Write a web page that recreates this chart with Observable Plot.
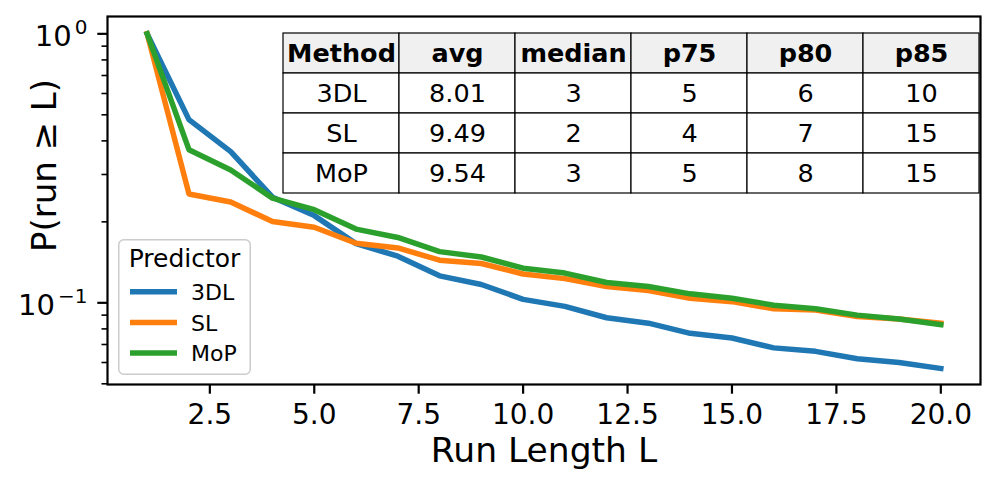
<!DOCTYPE html>
<html><head><meta charset="utf-8">
<script src="https://cdn.jsdelivr.net/npm/d3@7"></script>
<script src="https://cdn.jsdelivr.net/npm/@observablehq/plot@0.6"></script>
<style>
body{margin:0;background:#fff;}
#wrap{position:relative;width:997px;height:486px;font-family:"DejaVu Sans";}
.overlay{position:absolute;}
</style></head><body><div id="wrap"></div>
<script>
// ---- data ----
const runLength = [1,2,3,4,5,6,7,8,9,10,11,12,13,14,15,16,17,18,19,20];
const series = ["3DL","SL","MoP"];
const p3DL = [1.0,0.480,0.365,0.247,0.211,0.166,0.149,0.126,0.117,0.103,0.097,0.088,0.084,0.077,0.074,0.068,0.066,0.062,0.060,0.057];
const pSL  = [1.0,0.254,0.237,0.2005,0.191,0.1665,0.160,0.144,0.140,0.128,0.123,0.115,0.111,0.104,0.101,0.095,0.094,0.089,0.087,0.084];
const pMoP = [1.0,0.371,0.312,0.245,0.222,0.188,0.175,0.155,0.148,0.1345,0.129,0.119,0.115,0.108,0.104,0.098,0.095,0.090,0.087,0.083];
const xTicks = [2.5,5,7.5,10,12.5,15,17.5,20];
const yMajor = [1, 0.1];
const yMajorExp = ["0","\u22121"];
const yMinor = [0.9,0.8,0.7,0.6,0.5,0.4,0.3,0.2,0.09,0.08,0.07,0.06,0.05];
const tableColumns = ["Method","avg","median","p75","p80","p85"];
const tableMethods = ["3DL","SL","MoP"];
const tableAvg = ["8.01","9.49","9.54"];
const tableMedian = ["3","2","3"];
const tableP75 = ["5","4","5"];
const tableP80 = ["6","7","8"];
const tableP85 = ["10","15","15"];
const colors = ["#1f77b4","#ff7f0e","#2ca02c"];
const xLabel = "Run Length L";
const yLabel = "P(run \u2265 L)";
const legendTitle = "Predictor";

const FONT = "DejaVu Sans";
const wrap = document.getElementById("wrap");

function textWidth(t, size, weight="normal"){
  const c = document.createElement("canvas").getContext("2d");
  c.font = `${weight} ${size}px "${FONT}"`;
  return c.measureText(t).width;
}

const seriesValues = [p3DL, pSL, pMoP];
const rows = series.flatMap((s,i)=> seriesValues[i].map((p,j)=>({L: runLength[j], p, s})));

const yLabelMarks = yMajor.flatMap((v,i)=>{
  const w = textWidth(yMajorExp[i], 20);
  return [
    Plot.text([v], {y: d=>d, frameAnchor:"left", text: ()=>yMajorExp[i], textAnchor:"end", lineAnchor:"bottom", dx:-20, dy:0, fontSize:20}),
    Plot.text([v], {y: d=>d, frameAnchor:"left", text: ()=>"10", textAnchor:"end", lineAnchor:"bottom", dx:-20 - w - 3, dy:12, fontSize:29})
  ];
});

const chart = Plot.plot({
  width: 997, height: 486,
  marginLeft: 107, marginRight: 17, marginTop: 16, marginBottom: 102,
  x: {domain: [0.05, 20.95], label: null},
  y: {type: "log", domain: [0.0497, 1.16], label: null},
  color: {domain: series, range: colors},
  style: {fontFamily: `"${FONT}"`, background: "white", color: "black"},
  marks: [
    Plot.line(rows, {x:"L", y:"p", stroke:"s", strokeWidth:5.5, strokeLinecap:"square", strokeLinejoin:"round"}),
    Plot.axisX({ticks: xTicks, tickSize: 9.7, tickPadding: 9.7, tickFormat: d=>d.toFixed(1), fontSize: 28, strokeWidth: 2.2, label: null}),
    Plot.axisY({ticks: yMinor, tickSize: 5.5, tickFormat: ()=>"", strokeWidth: 1.6, label: null}),
    Plot.axisY({ticks: yMajor, tickSize: 9.7, tickFormat: ()=>"", strokeWidth: 2.2, label: null}),
    ...yLabelMarks,
    Plot.text([xLabel], {frameAnchor:"bottom", text: d=>d, fontSize:34.5, textAnchor:"middle", lineAnchor:"bottom", dy:77}),
    Plot.text([yLabel], {frameAnchor:"left", text: d=>d, fontSize:34, rotate:-90, textAnchor:"middle", lineAnchor:"middle", dx:-62, dy:-35}),
    Plot.frame({stroke:"black", strokeWidth:2.2})
  ]
});
wrap.appendChild(chart);

// ---- table (inside the axes) ----
const cellsHeader = tableColumns.map(c => ({col: c, row: "header", text: c}));
const cellsBody = tableMethods.flatMap((m, ri) => {
  const vals = [m, tableAvg[ri], tableMedian[ri], tableP75[ri], tableP80[ri], tableP85[ri]];
  return vals.map((v, ci) => ({col: tableColumns[ci], row: m, text: v}));
});
const table = Plot.plot({
  width: 698, height: 162, margin: 0,
  x: {type: "band", domain: tableColumns, padding: 0, axis: null},
  y: {type: "band", domain: ["header", ...tableMethods], padding: 0, axis: null},
  style: {fontFamily: `"${FONT}"`, background: "transparent", overflow: "visible", color: "black"},
  marks: [
    Plot.cell(cellsHeader, {x:"col", y:"row", fill:"#f0f0f0", stroke:"#000", strokeWidth:1.2}),
    Plot.cell(cellsBody, {x:"col", y:"row", fill:"#ffffff", stroke:"#000", strokeWidth:1.2}),
    Plot.text(cellsHeader, {x:"col", y:"row", text:"text", fontWeight:"bold", fontSize:25.5, fill:"#000"}),
    Plot.text(cellsBody, {x:"col", y:"row", text:"text", fontSize:25.5, fill:"#000"})
  ]
});
table.style.overflow = "visible";
table.style.background = "transparent";
const tdiv = document.createElement("div");
tdiv.className = "overlay";
tdiv.style.left = "282px"; tdiv.style.top = "31.7px";
tdiv.appendChild(table);
wrap.appendChild(tdiv);

// ---- legend ----
const ldiv = document.createElement("div");
ldiv.className = "overlay";
ldiv.style.left = "118px"; ldiv.style.top = "239px";
wrap.appendChild(ldiv);
const lsvg = d3.select(ldiv).append("svg").attr("width", 134).attr("height", 137)
  .style("font-family", `"${FONT}"`).style("overflow","visible");
lsvg.append("rect").attr("x",0.75).attr("y",0.75).attr("width",131.5).attr("height",134.5)
  .attr("rx",5).attr("fill","white").attr("fill-opacity",0.8).attr("stroke","#cccccc").attr("stroke-width",1.5);
lsvg.append("text").attr("x",66.5).attr("y",27.7).attr("text-anchor","middle").attr("font-size",25).text(legendTitle);
series.forEach((s,i)=>{
  lsvg.append("line").attr("x1",12).attr("x2",59).attr("y1",52.7+i*30.7).attr("y2",52.7+i*30.7)
    .attr("stroke",colors[i]).attr("stroke-width",5.5).attr("stroke-linecap","butt");
  lsvg.append("text").attr("x",73).attr("y",61+i*30.7).attr("font-size",22).text(s);
});
</script></body></html>
